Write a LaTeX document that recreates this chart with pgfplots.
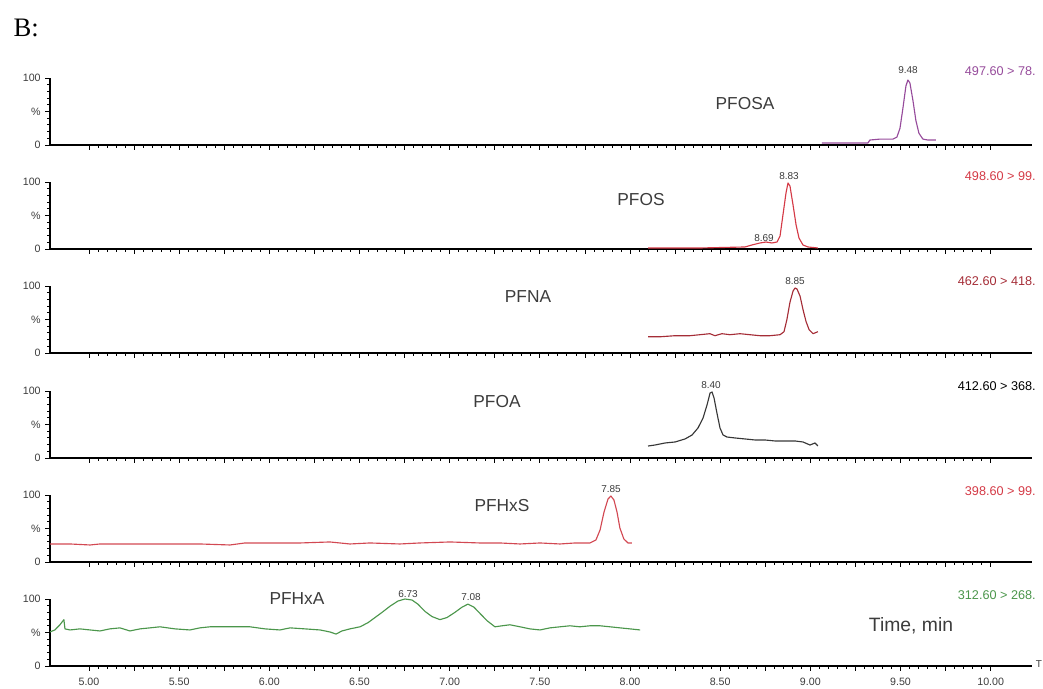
\documentclass[border=0pt]{standalone}
\usepackage{fontspec}
\setmainfont{Liberation Sans}
\newfontfamily\seriffont{Liberation Serif}
\usepackage{pgfplots}
\pgfplotsset{compat=1.18}
\definecolor{cpurple}{RGB}{150,75,155}
\definecolor{cred}{RGB}{212,58,70}
\definecolor{cdred}{RGB}{165,45,55}
\definecolor{cgray}{RGB}{55,55,55}
\definecolor{cpink}{RGB}{210,72,82}
\definecolor{cgreen}{RGB}{75,150,75}
\definecolor{txt}{RGB}{60,60,60}
\pgfplotsset{panel/.style={
  scale only axis, width=736.5pt, height=50.25pt,
  xmin=4.784, xmax=10.229, ymin=0, ymax=100,
  axis x line=bottom, axis y line=left,
  axis line style={-, line width=1.3pt, black},
  xtick={5,5.25,5.5,5.75,6,6.25,6.5,6.75,7,7.25,7.5,7.75,8,8.25,8.5,8.75,9,9.25,9.5,9.75,10},
  minor x tick num=4,
  ytick={0,50,100}, yticklabels={0,\%,100},
  minor y tick num=4,
  tick align=outside, major tick length=3.5pt, minor tick length=2pt,
  tick style={line width=0.6pt, black},
  xticklabels={},
  clip=false, anchor=south west,
  tick label style={font=\fontsize{8}{9}\selectfont, text=txt},
  xticklabel style={yshift=-2pt},
  every axis plot/.append style={line width=0.85pt, line join=round, mark=none},
}}
\begin{document}
\begin{tikzpicture}
\path[use as bounding box] (0,0) rectangle (782.25pt,516.75pt);

% PFOSA
\begin{axis}[panel, at={(37.5pt,408pt)}]
\addplot[cpurple] coordinates {(9.064,2.9)(9.319,2.9)(9.330,7.4)(9.386,8.8)(9.458,8.8)(9.480,11.8)(9.497,25)(9.513,54.4)(9.530,88.2)(9.541,97)(9.552,92.6)(9.569,66.2)(9.585,36.8)(9.602,17.6)(9.624,8.8)(9.652,7.4)(9.696,7.4)};
\end{axis}

% PFOS
\begin{axis}[panel, at={(37.5pt,330pt)}]
\addplot[cred] coordinates {(8.100,1.5)(8.388,1.5)(8.637,3)(8.676,6)(8.721,9)(8.754,10.4)(8.787,9)(8.815,10.4)(8.832,19.4)(8.848,50.7)(8.865,83.6)(8.876,98.5)(8.887,94)(8.904,65.7)(8.921,35.8)(8.937,16.4)(8.959,6)(8.987,3)(9.042,1.5)};
\end{axis}

% PFNA
\begin{axis}[panel, at={(37.5pt,252pt)}]
\addplot[cdred] coordinates {(8.100,24.2)(8.166,24.2)(8.249,25.8)(8.332,25.8)(8.388,27.3)(8.443,28.8)(8.471,25.8)(8.510,28.8)(8.554,27.3)(8.610,28.8)(8.665,27.3)(8.721,25.8)(8.776,25.8)(8.832,27.3)(8.854,31.8)(8.870,50)(8.887,75.8)(8.904,92.4)(8.915,97)(8.926,95.5)(8.943,84.8)(8.959,65.2)(8.976,47)(8.993,34.8)(9.015,28.8)(9.042,31.8)};
\end{axis}

% PFOA
\begin{axis}[panel, at={(37.5pt,173.25pt)}]
\addplot[cgray] coordinates {(8.100,17.9)(8.139,19.4)(8.194,22.4)(8.250,23.9)(8.305,28.4)(8.344,34.3)(8.377,44.8)(8.405,59.7)(8.427,79.1)(8.444,97)(8.455,98.5)(8.466,89.6)(8.482,67.2)(8.499,44.8)(8.516,34.3)(8.538,31.3)(8.582,29.9)(8.638,28.4)(8.693,26.9)(8.748,26.9)(8.804,25.4)(8.859,25.4)(8.915,25.4)(8.959,23.9)(8.998,19.4)(9.026,22.4)(9.042,17.9)};
\end{axis}

% PFHxS
\begin{axis}[panel, at={(37.5pt,95.25pt)}]
\addplot[cpink] coordinates {(4.784,26.9)(4.895,26.9)(5.006,25.4)(5.061,26.9)(5.338,26.9)(5.615,26.9)(5.782,25.4)(5.865,28.4)(6.170,28.4)(6.336,29.9)(6.447,26.9)(6.558,28.4)(6.724,26.9)(6.835,28.4)(7.002,29.9)(7.168,28.4)(7.279,28.4)(7.390,26.9)(7.501,28.4)(7.612,26.9)(7.695,28.4)(7.778,28.4)(7.811,32.8)(7.834,47.8)(7.856,74.6)(7.878,94)(7.894,98.5)(7.911,92.5)(7.928,74.6)(7.944,50.7)(7.966,34.3)(7.989,28.4)(8.011,28.4)};
\end{axis}

% PFHxA
\begin{axis}[panel, at={(37.5pt,17.25pt)},
  xticklabels={5.00,,5.50,,6.00,,6.50,,7.00,,7.50,,8.00,,8.50,,9.00,,9.50,,10.00}]
\addplot[cgreen] coordinates {(4.784,50.8)(4.811,53.8)(4.839,61.5)(4.861,69.2)(4.867,55.4)(4.895,53.8)(4.950,55.4)(5.006,53.8)(5.061,52.3)(5.116,55.4)(5.172,56.9)(5.227,52.3)(5.283,55.4)(5.338,56.9)(5.394,58.5)(5.477,55.4)(5.560,53.8)(5.615,56.9)(5.671,58.5)(5.782,58.5)(5.893,58.5)(5.976,55.4)(6.059,53.8)(6.115,56.9)(6.198,55.4)(6.281,53.8)(6.336,50.8)(6.370,47.7)(6.403,52.3)(6.447,55.4)(6.503,58.5)(6.547,64.6)(6.586,72.3)(6.625,80)(6.669,89.2)(6.713,96.9)(6.752,100)(6.791,98.5)(6.824,92.3)(6.863,81.5)(6.902,73.8)(6.946,69.2)(6.985,72.3)(7.029,80)(7.068,87.7)(7.101,92.3)(7.135,87.7)(7.168,78.5)(7.207,67.7)(7.251,58.5)(7.290,60)(7.334,61.5)(7.390,58.5)(7.445,55.4)(7.501,53.8)(7.556,56.9)(7.612,58.5)(7.667,60)(7.722,58.5)(7.778,60)(7.834,60)(7.889,58.5)(7.945,56.9)(8.000,55.4)(8.056,53.8)};
\end{axis}

\begin{scope}[x=0.75pt, y=-0.75pt, shift={(0pt,516.75pt)}]
\node[anchor=west, font=\seriffont\fontsize{20}{22}\selectfont] at (9,28) {B:};
% peak labels
\begin{scope}[every node/.style={font=\fontsize{7.5}{8}\selectfont, text=txt, inner sep=0pt}]
\node at (908,70) {9.48};
\node at (789,176) {8.83};
\node at (764,238) {8.69};
\node at (795,281) {8.85};
\node at (711,385) {8.40};
\node at (611,489) {7.85};
\node at (408,594) {6.73};
\node at (471,597) {7.08};
\node at (1039,664) {T};
\end{scope}
% transitions
\begin{scope}[every node/.style={font=\fontsize{9.5}{10}\selectfont, inner sep=0pt, anchor=east}]
\node[text=cpurple] at (1036,71) {497.60 > 78.};
\node[text=cred] at (1036,176) {498.60 > 99.};
\node[text=cdred] at (1036,281) {462.60 > 418.};
\node[text=black] at (1036,386) {412.60 > 368.};
\node[text=cred] at (1036,491) {398.60 > 99.};
\node[text=cgreen] at (1036,595) {312.60 > 268.};
\end{scope}
% compound names
\begin{scope}[every node/.style={font=\fontsize{13}{15}\selectfont, text=txt, inner sep=0pt}]
\node at (745,104) {PFOSA};
\node at (641,200) {PFOS};
\node at (528,297) {PFNA};
\node at (497,402) {PFOA};
\node at (502,506) {PFHxS};
\node at (297,599) {PFHxA};
\node[font=\fontsize{14.5}{16}\selectfont] at (911,626) {Time, min};
\end{scope}
\end{scope}
\end{tikzpicture}
\end{document}
